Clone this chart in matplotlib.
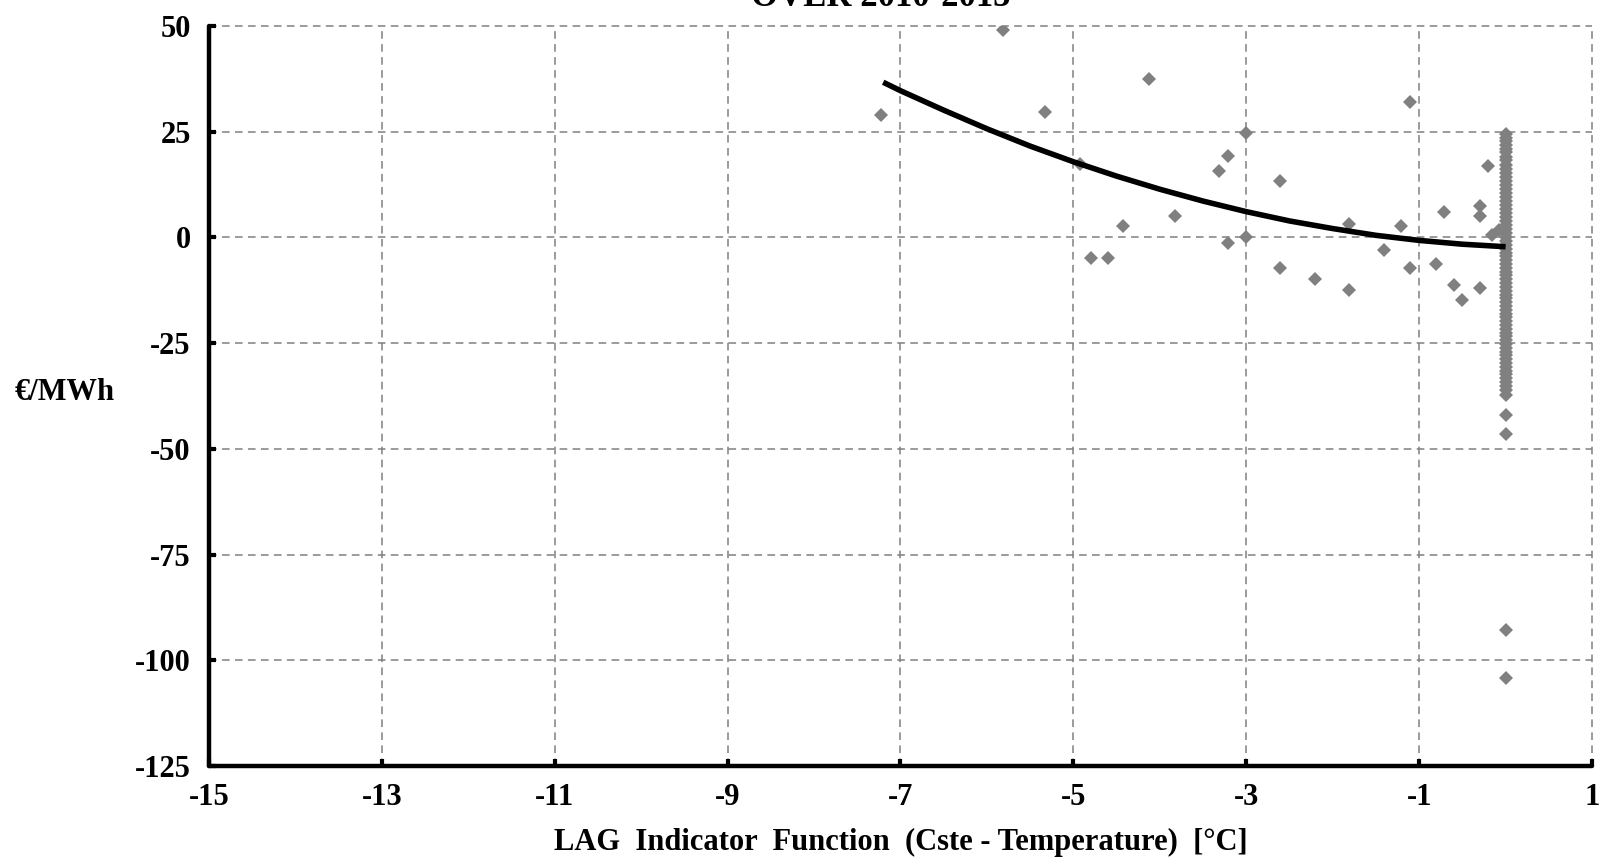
import matplotlib.pyplot as plt

plt.rcParams['font.family'] = ['Liberation Serif', 'DejaVu Serif']
plt.rcParams['font.weight'] = 'bold'

# scatter points away from zero
pts_x = [-7.23, -5.81, -5.33, -4.12, -4.92, -4.43, -4.80, -4.60, -3.82, -3.31,
         -3.21, -3.00, -3.21, -3.00, -2.61, -2.61, -2.21, -1.81, -1.81, -1.41,
         -1.21, -1.11, -1.11, -0.80, -0.71, -0.60, -0.51, -0.30, -0.30, -0.30,
         -0.20, -0.16, -0.08]
pts_y = [29.0, 49.0, 29.7, 37.5, 17.4, 2.7, -4.8, -4.8, 5.1, 15.7,
         19.3, 24.6, -1.4, 0.0, 13.3, -7.2, -9.9, 3.2, -12.5, -2.9,
         2.7, -7.2, 32.1, -6.3, 6.1, -11.3, -14.7, 7.5, 5.1, -12.0,
         16.9, 0.5, 1.7]

# points stacked at zero
col_y = [24.5, 23.6, 22.8, 21.9, 21.0, 20.1, 19.0, 18.2, 17.1, 16.3,
         15.2, 14.4, 13.3, 12.5, 11.4, 10.6, 9.5, 8.7, 7.6, 6.8,
         5.7, 4.9, 3.8, 3.0, 1.9, 1.1, 0.0, -0.9, -1.8, -2.7,
         -3.6, -4.5, -5.4, -6.3, -7.2, -8.1, -9.0, -9.9, -10.8, -11.7,
         -12.6, -13.5, -14.4, -15.3, -16.2, -17.1, -18.0, -18.9, -19.8, -20.7,
         -21.6, -22.5, -23.4, -24.3, -25.2, -26.1, -27.0, -27.9, -28.8, -29.7,
         -30.6, -31.5, -32.4, -33.3, -34.2, -35.1, -36.0, -37.2, -42.0, -46.6,
         -92.8, -104.3]

# trend curve
fit_x = [-7.2, -7.0, -6.5, -6.0, -5.5, -5.0, -4.5, -4.0, -3.5, -3.0,
         -2.5, -2.0, -1.5, -1.0, -0.5, 0.0]
fit_y = [36.7, 34.7, 30.1, 25.7, 21.6, 17.9, 14.5, 11.4, 8.6, 6.1,
         3.9, 2.1, 0.5, -0.7, -1.6, -2.2]

xticks = [-15, -13, -11, -9, -7, -5, -3, -1, 1]
yticks = [50, 25, 0, -25, -50, -75, -100, -125]

fig = plt.figure(figsize=(16.01, 8.61), dpi=100)
ax = fig.add_axes([0.1305, 0.1103, 0.8639, 0.8595])

gray = '#808080'
ax.plot(pts_x, pts_y, 'D', color=gray, ms=7, mew=0, zorder=3)
ax.plot([0.0] * len(col_y), col_y, 'D', color=gray, ms=7.5, mew=0, zorder=3)
ax.plot(fit_x, fit_y, color='black', lw=4, solid_capstyle='butt', zorder=4)

ax.set_xlim(-15, 1)
ax.set_ylim(-125, 50)
ax.set_xticks(xticks)
ax.set_yticks(yticks)
ax.set_xticklabels([str(t) for t in xticks])
ax.set_yticklabels([str(t) for t in yticks])
ax.grid(True, color=gray, ls=(0, (5, 3.5)), lw=1.1)
for gl in ax.get_xgridlines() + ax.get_ygridlines():
    gl.set_clip_on(False)
ax.set_axisbelow(True)

for s in ['top', 'right']:
    ax.spines[s].set_visible(False)
for s in ['left', 'bottom']:
    ax.spines[s].set_linewidth(3.2)
    ax.spines[s].set_capstyle('round')
    ax.spines[s].set_zorder(5)

ax.tick_params(direction='in', length=5, width=3, labelsize=22, pad=12)
ax.tick_params(axis='y', pad=13)

ax.set_xlabel('LAG  Indicator  Function  (Cste - Temperature)  [°C]',
              fontsize=22, fontweight='bold', labelpad=12)
fig.text(15 / 1601, 1 - 393 / 861, '€/MWh', fontsize=22, fontweight='bold',
         ha='left', va='center')
# title only partly inside the picture, as in the original
fig.text(881 / 1601, 1 - 6 / 861, 'OVER 2010-2015', fontsize=25,
         fontweight='bold', ha='center', va='baseline')

fig.savefig('out.png', dpi=100)
